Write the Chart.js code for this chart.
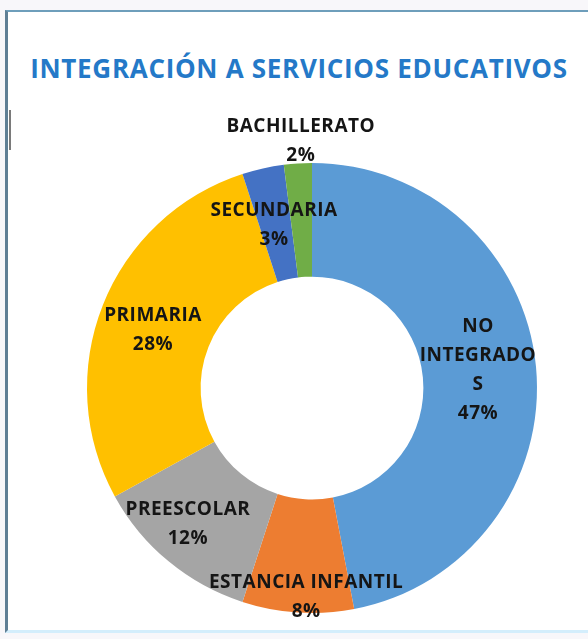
<!DOCTYPE html>
<html>
<head>
<meta charset="utf-8">
<script src="https://cdn.jsdelivr.net/npm/chart.js@4/dist/chart.umd.min.js"></script>
<style>
  html, body { margin: 0; padding: 0; background: #f8f7fa; }
  #wrap { position: relative; width: 588px; height: 639px; overflow: hidden; }
  #frame { position: absolute; left: 5px; top: 10px; width: 583px; height: 623px;
           background: #ffffff; border-top: 2px solid #6e9ebb; border-left: 3px solid #5f7f95;
           border-bottom: 3px solid #d4eefc; box-sizing: border-box; }
  #cursor { position: absolute; left: 9px; top: 110px; width: 2px; height: 40px; background: #7a7a7a; }
  #title { position: absolute; left: 0; top: 49px; width: 598px; text-align: center;
           font-family: "Open Sans", sans-serif; font-weight: bold; font-size: 26px; letter-spacing: 0.7px;
           color: #2479c8; white-space: nowrap; line-height: 38px; }
  canvas { position: absolute; left: 0; top: 0; }
</style>
</head>
<body>
<div id="wrap">
  <div id="frame"></div>
  <div id="cursor"></div>
  <div id="title">INTEGRACIÓN A SERVICIOS EDUCATIVOS</div>
  <canvas id="c" width="588" height="639"></canvas>
</div>
<script>
// ---- data ----
const categories = ["NO INTEGRADOS", "ESTANCIA INFANTIL", "PREESCOLAR", "PRIMARIA", "SECUNDARIA", "BACHILLERATO"];
const values = [47, 8, 12, 28, 3, 2];
// label lines as wrapped in the original
const labelLines = [["NO", "INTEGRADO", "S"], ["ESTANCIA INFANTIL"], ["PREESCOLAR"], ["PRIMARIA"], ["SECUNDARIA"], ["BACHILLERATO"]];
const colors = ["#5b9bd5", "#ed7d31", "#a5a5a5", "#ffc000", "#4472c4", "#70ad47"];
// label placement: fraction of outer radius, angle offset in degrees
const labelRadius = [0.742, 0.931, 0.818, 0.752, 0.744, 1.097];
const labelAngleOffset = [-0.8, -2.0, 2.8, -1.6, -0.5, 1.0];

const labelPlugin = {
  id: 'sliceLabels',
  afterDatasetsDraw(chart) {
    const ctx = chart.ctx;
    const meta = chart.getDatasetMeta(0);
    const total = values.reduce((a, b) => a + b, 0);
    ctx.save();
    ctx.font = 'bold 19px "Open Sans", sans-serif';
    if ('letterSpacing' in ctx) ctx.letterSpacing = '0.5px';
    ctx.fillStyle = '#151515';
    ctx.textAlign = 'center';
    ctx.textBaseline = 'middle';
    const lh = 29;
    meta.data.forEach((arc, i) => {
      const p = arc.getProps(['x', 'y', 'startAngle', 'endAngle', 'outerRadius'], true);
      const mid = (p.startAngle + p.endAngle) / 2 + labelAngleOffset[i] * Math.PI / 180;
      const r = p.outerRadius * labelRadius[i];
      const cx = p.x + Math.cos(mid) * r;
      const cy = p.y + Math.sin(mid) * r;
      const lines = labelLines[i].concat([Math.round(values[i] / total * 100) + '%']);
      const y0 = cy - (lines.length - 1) * lh / 2;
      lines.forEach((t, k) => ctx.fillText(t, cx, y0 + k * lh));
    });
    ctx.restore();
  }
};

new Chart(document.getElementById('c'), {
  type: 'doughnut',
  data: {
    labels: categories,
    datasets: [{ data: values, backgroundColor: colors, borderWidth: 0 }]
  },
  options: {
    responsive: false,
    devicePixelRatio: 1,
    animation: false,
    cutout: '49.5%',
    layout: { padding: { top: 163, bottom: 26, left: 60, right: 24 } },
    plugins: { legend: { display: false }, tooltip: { enabled: false }, title: { display: false } }
  },
  plugins: [labelPlugin]
});
</script>
</body>
</html>
